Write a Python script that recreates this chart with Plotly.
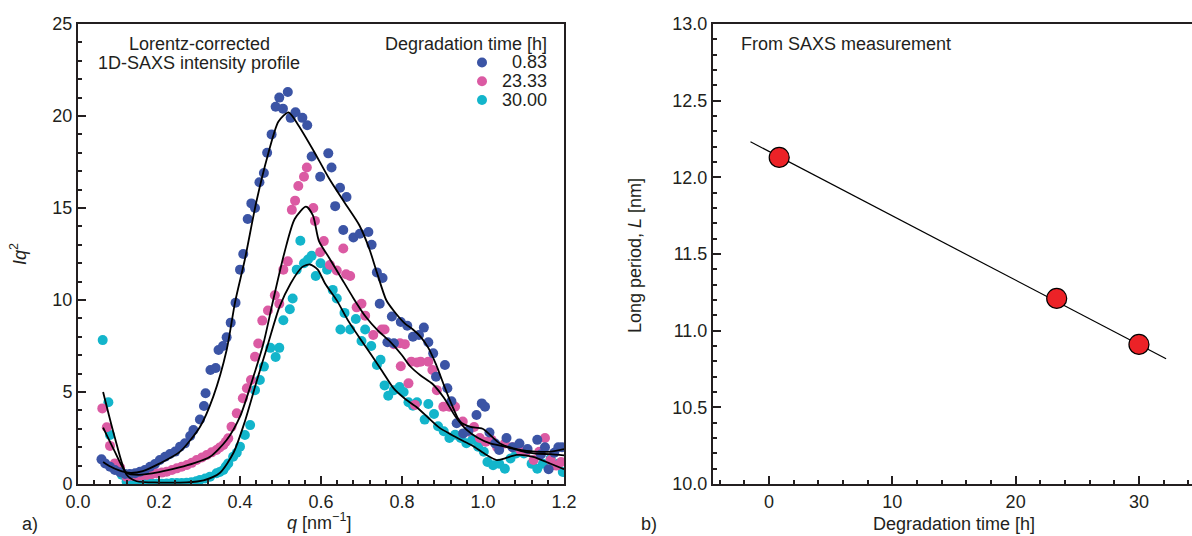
import plotly.graph_objects as go

# ---------------- data: panel a) Lorentz-corrected SAXS profiles ----------------
series_names = ["0.83", "23.33", "30.00"]

q_083 = [0.058, 0.067, 0.079, 0.091, 0.104, 0.116, 0.128, 0.141, 0.153, 0.165, 0.178, 0.190,
         0.202, 0.215, 0.227, 0.240, 0.252, 0.264, 0.277, 0.285, 0.301, 0.311, 0.315, 0.327,
         0.340, 0.347, 0.358, 0.367, 0.377, 0.389, 0.400, 0.408, 0.419, 0.428, 0.437, 0.448,
         0.459, 0.467, 0.478, 0.488, 0.497, 0.506, 0.518, 0.525, 0.537, 0.554, 0.566, 0.577,
         0.598, 0.618, 0.626, 0.635, 0.647, 0.655, 0.663, 0.680, 0.696, 0.717, 0.725, 0.738,
         0.745, 0.752, 0.764, 0.775, 0.780, 0.797, 0.813, 0.827, 0.842, 0.854, 0.865, 0.877,
         0.884, 0.906, 0.912, 0.922, 0.935, 0.951, 0.964, 0.984, 0.997, 1.005, 1.016, 1.030,
         1.040, 1.058, 1.073, 1.090, 1.110, 1.134, 1.143, 1.153, 1.162, 1.176, 1.186, 1.195]
iq2_083 = [1.34, 1.12, 0.94, 0.76, 0.64, 0.54, 0.54, 0.58, 0.67, 0.76, 0.94, 1.09,
           1.30, 1.48, 1.63, 1.76, 2.03, 2.21, 2.61, 2.93, 3.51, 4.24, 4.93, 6.20,
           6.30, 7.28, 7.50, 7.97, 8.77, 9.85, 11.65, 12.5, 14.4, 15.25, 15.0, 16.4,
           16.9, 18.0, 19.0, 20.5, 21.0, 20.4, 21.3, 19.9, 20.2, 19.9, 19.5, 17.8,
           16.7, 17.97, 17.2, 15.1, 16.1, 13.8, 15.6, 13.4, 13.6, 13.7, 13.0, 11.5,
           9.8, 11.2, 7.7, 9.1, 7.65, 8.8, 8.6, 8.0, 8.1, 8.5, 7.7, 7.1,
           5.83, 6.47, 5.2, 4.5, 3.3, 2.75, 2.9, 3.75, 4.38, 4.2, 2.8, 2.2,
           1.85, 2.5, 2.0, 2.2, 1.9, 2.4, 1.6, 2.0, 0.8, 1.7, 2.0, 2.0]

q_2333 = [0.060, 0.071, 0.079, 0.091, 0.104, 0.120, 0.133, 0.145, 0.157, 0.170, 0.182, 0.194,
          0.207, 0.219, 0.232, 0.244, 0.256, 0.269, 0.281, 0.293, 0.306, 0.318, 0.330, 0.342,
          0.350, 0.359, 0.365, 0.371, 0.379, 0.392, 0.407, 0.417, 0.427, 0.437, 0.445, 0.455,
          0.469, 0.486, 0.497, 0.507, 0.518, 0.528, 0.536, 0.544, 0.558, 0.565, 0.581, 0.585,
          0.598, 0.607, 0.622, 0.639, 0.655, 0.662, 0.672, 0.688, 0.700, 0.709, 0.729, 0.750,
          0.757, 0.780, 0.795, 0.797, 0.807, 0.816, 0.823, 0.832, 0.837, 0.846, 0.865, 0.875,
          0.886, 0.902, 0.917, 0.931, 0.950, 0.964, 0.978, 0.992, 1.007, 1.021, 1.035, 1.054,
          1.073, 1.092, 1.106, 1.125, 1.139, 1.153, 1.167, 1.181, 1.193]
iq2_2333 = [4.11, 3.08, 2.07, 1.12, 0.90, 0.40, 0.45, 0.43, 0.46, 0.49, 0.53, 0.58,
            0.62, 0.67, 0.76, 0.85, 0.94, 1.03, 1.15, 1.30, 1.44, 1.58, 1.72, 1.85,
            1.98, 2.12, 2.30, 2.48, 3.11, 3.84, 4.66, 5.20, 5.65, 6.92, 7.64, 8.88,
            9.43, 10.26, 9.8, 11.65, 12.1, 14.9, 15.4, 16.2, 16.7, 17.2, 15.0, 14.3,
            12.6, 13.2, 11.9, 11.6, 12.8, 11.4, 11.3, 9.6, 9.8, 9.15, 8.1, 8.4,
            8.4, 7.6, 7.65, 6.4, 7.6, 5.47, 6.65, 4.3, 6.6, 6.65, 6.65, 6.2,
            5.1, 4.2, 4.2, 4.2, 3.4, 2.85, 3.1, 2.5, 2.3, 2.4, 2.0, 2.2,
            2.0, 1.85, 1.75, 1.3, 1.75, 2.5, 1.3, 1.0, 1.2]

q_3000 = [0.061, 0.075, 0.079, 0.095, 0.108, 0.120, 0.133, 0.145, 0.157, 0.170, 0.182, 0.194,
          0.207, 0.219, 0.232, 0.244, 0.256, 0.268, 0.280, 0.292, 0.301, 0.314, 0.326, 0.342,
          0.350, 0.359, 0.365, 0.371, 0.383, 0.392, 0.400, 0.412, 0.425, 0.437, 0.449, 0.459,
          0.475, 0.488, 0.497, 0.507, 0.523, 0.530, 0.540, 0.549, 0.558, 0.568, 0.577, 0.587,
          0.599, 0.615, 0.629, 0.639, 0.648, 0.658, 0.672, 0.686, 0.700, 0.709, 0.724, 0.738,
          0.747, 0.757, 0.766, 0.780, 0.794, 0.804, 0.816, 0.827, 0.837, 0.856, 0.865, 0.879,
          0.889, 0.903, 0.917, 0.931, 0.945, 0.959, 0.974, 0.988, 1.002, 1.011, 1.025, 1.040,
          1.054, 1.068, 1.082, 1.101, 1.120, 1.134, 1.148, 1.167, 1.186, 1.197]
iq2_3000 = [7.82, 4.44, 2.66, 1.00, 0.50, 0.13, 0.08, 0.05, 0.04, 0.03, 0.03, 0.02,
            0.02, 0.03, 0.05, 0.05, 0.06, 0.07, 0.10, 0.15, 0.22, 0.30, 0.40, 0.58,
            0.65, 0.76, 0.95, 1.12, 1.48, 1.70, 2.03, 2.66, 3.20, 5.10, 5.65, 6.38,
            7.4, 6.9, 7.4, 8.9, 9.5, 10.08, 11.65, 13.22, 12.0, 12.2, 12.4, 11.3,
            12.0, 11.65, 10.55, 10.08, 8.4, 9.3, 8.4, 8.97, 7.77, 8.4, 7.5, 6.47,
            6.75, 5.36, 4.8, 5.1, 5.27, 5.0, 4.44, 4.25, 4.44, 3.5, 4.35, 3.8,
            3.14, 2.87, 2.5, 2.68, 2.5, 2.22, 2.4, 2.03, 1.75, 1.2, 1.02, 1.1,
            0.83, 1.39, 1.66, 1.66, 1.1, 0.83, 1.1, 1.39, 1.1, 0.65]

# smoothed (fitted) profiles
fit_q_083 = [0.062, 0.08, 0.10, 0.13, 0.16, 0.202, 0.252, 0.301, 0.334, 0.367, 0.388, 0.412,
             0.44, 0.469, 0.495, 0.52, 0.544, 0.582, 0.62, 0.658, 0.695, 0.719, 0.738, 0.761,
             0.78, 0.808, 0.827, 0.846, 0.865, 0.884, 0.903, 0.922, 0.943, 0.969, 0.999, 1.042,
             1.092, 1.129, 1.167, 1.2]
fit_y_083 = [1.2, 0.95, 0.75, 0.6, 0.7, 1.12, 1.76, 3.1, 4.75, 7.28, 9.9, 12.2,
             15.3, 17.9, 19.7, 20.2, 19.5, 18.1, 16.6, 15.3, 14.05, 12.8, 11.5, 10.0,
             9.4, 8.7, 8.4, 8.0, 7.4, 6.5, 5.4, 4.35, 3.4, 3.1, 3.0, 2.2,
             1.85, 1.76, 1.76, 1.9]
fit_q_2333 = [0.062, 0.09, 0.12, 0.15, 0.2, 0.25, 0.285, 0.326, 0.367, 0.4, 0.433, 0.458,
              0.482, 0.51, 0.535, 0.563, 0.58, 0.595, 0.62, 0.65, 0.68, 0.71, 0.74, 0.77,
              0.8, 0.82, 0.846, 0.875, 0.903, 0.931, 0.959, 0.988, 1.016, 1.054, 1.092, 1.129,
              1.167, 1.2]
fit_y_2333 = [3.06, 1.8, 0.6, 0.5, 0.65, 0.9, 1.12, 1.48, 2.39, 3.66, 5.83, 7.65,
              10.0, 12.6, 14.4, 15.07, 14.6, 13.2, 12.3, 11.2, 10.1, 9.1, 8.35, 7.75,
              7.0, 6.4, 5.9, 5.45, 4.7, 3.7, 2.96, 2.5, 2.22, 2.03, 1.8, 1.65,
              1.62, 1.55]
fit_q_3000 = [0.062, 0.09, 0.12, 0.145, 0.2, 0.268, 0.31, 0.35, 0.384, 0.412, 0.44, 0.469,
              0.497, 0.525, 0.554, 0.573, 0.592, 0.61, 0.639, 0.667, 0.695, 0.724, 0.752, 0.78,
              0.808, 0.837, 0.865, 0.893, 0.922, 0.95, 0.978, 1.007, 1.034, 1.054, 1.083, 1.124,
              1.167, 1.2]
fit_y_3000 = [5.0, 2.6, 0.5, 0.15, 0.08, 0.09, 0.2, 0.6, 1.7, 3.4, 5.5, 7.6,
              9.6, 10.9, 11.8, 11.93, 11.65, 10.9, 9.98, 8.88, 7.95, 7.03, 6.1, 5.18,
              4.62, 4.16, 3.6, 3.05, 2.68, 2.35, 2.03, 1.6, 1.3, 1.39, 1.58, 1.48,
              1.1, 0.8]

# ---------------- data: panel b) long period vs degradation time ----------------
deg_time = [0.83, 23.33, 30.00]
long_period = [12.13, 11.21, 10.91]
fit_time = [-1.5, 32.2]
fit_long_period = [12.232, 10.817]

# ---------------- styling ----------------
FONT = "Liberation Sans, Arial, Helvetica, sans-serif"
INK = "#231F20"
colors = ["#3B54A5", "#DB5AA3", "#13B5CB"]
W, H = 1192, 536

fig = go.Figure()

scatter_sets = [(q_3000, iq2_3000, colors[2]), (q_2333, iq2_2333, colors[1]), (q_083, iq2_083, colors[0])]
for qx, yy, c in scatter_sets:
    fig.add_trace(go.Scatter(x=qx, y=yy, mode="markers", xaxis="x", yaxis="y",
                             marker=dict(size=10, color=c, line=dict(width=0)),
                             showlegend=False, cliponaxis=True))

for fq, fy in [(fit_q_083, fit_y_083), (fit_q_2333, fit_y_2333), (fit_q_3000, fit_y_3000)]:
    fig.add_trace(go.Scatter(x=fq, y=fy, mode="lines", xaxis="x", yaxis="y",
                             line=dict(color="black", width=1.8, shape="spline", smoothing=0.7),
                             showlegend=False))

fig.add_trace(go.Scatter(x=fit_time, y=fit_long_period, mode="lines", xaxis="x2", yaxis="y2",
                         line=dict(color="black", width=1.2), showlegend=False))
fig.add_trace(go.Scatter(x=deg_time, y=long_period, mode="markers", xaxis="x2", yaxis="y2",
                         marker=dict(size=20, color="#EC2227", line=dict(color="black", width=1.2)),
                         showlegend=False))

axis_common = dict(showline=True, linecolor=INK, linewidth=2, mirror=True, ticks="inside",
                   tickcolor=INK, tickwidth=1.5, ticklen=8, showgrid=False, zeroline=False,
                   automargin=False,
                   tickfont=dict(family=FONT, size=18, color=INK))

L0, L1 = 78 / W, 564 / W
R0, R1 = 713 / W, 1.0
B, T = 1 - 484 / H, 1 - 24 / H

fig.update_layout(
    width=W, height=H, margin=dict(l=0, r=0, t=0, b=0, autoexpand=False),
    paper_bgcolor="white", plot_bgcolor="white", showlegend=False,
    font=dict(family=FONT, size=18, color=INK),
    xaxis=dict(domain=[L0, L1], range=[0, 1.2], dtick=0.2, tickformat=".1f", anchor="y",
               minor=dict(dtick=0.04, ticks="inside", ticklen=4, tickcolor=INK, tickwidth=1.5),
               **axis_common),
    yaxis=dict(domain=[B, T], range=[0, 25], dtick=5, anchor="x",
               minor=dict(dtick=1, ticks="inside", ticklen=4, tickcolor=INK, tickwidth=1.5),
               **axis_common),
    xaxis2=dict(domain=[R0, R1], range=[-4.54, 34.3], tick0=0, dtick=10, anchor="y2",
                minor=dict(dtick=2, ticks="inside", ticklen=4, tickcolor=INK, tickwidth=1.5),
                **{**axis_common, "mirror": True}),
    yaxis2=dict(domain=[B, T], range=[10, 13], dtick=0.5, tickformat=".1f", anchor="x2",
                minor=dict(dtick=0.1, ticks="inside", ticklen=4, tickcolor=INK, tickwidth=1.5),
                **{**axis_common, "mirror": False}),
)

def px(x, y, text, **kw):
    fig.add_annotation(x=x / W, y=1 - y / H, xref="paper", yref="paper", text=text,
                       showarrow=False, font=dict(family=FONT, size=18, color=INK), **kw)

# panel labels and axis titles
px(30, 524, "a)", xanchor="center", yanchor="middle")
px(649, 524, "b)", xanchor="center", yanchor="middle")
px(319, 535, "<i>q</i> [nm<sup>\u22121</sup>]", xanchor="center", yanchor="bottom")
px(18, 254, "<i>Iq</i><sup>2</sup>", textangle=-90, xanchor="center", yanchor="middle")
px(954, 524, "Degradation time [h]", xanchor="center", yanchor="middle")
px(635, 256, "Long period, <i>L</i> [nm]", textangle=-90, xanchor="center", yanchor="middle")
px(739, 44, "From SAXS measurement", xanchor="left", yanchor="middle")
px(199, 44, "Lorentz-corrected", xanchor="center", yanchor="middle")
px(199, 63, "1D-SAXS intensity profile", xanchor="center", yanchor="middle")

# legend (header, keys, labels)
px(549, 44, "Degradation time [h]", xanchor="right", yanchor="middle")
legend_rows = [62.5, 81.2, 100.0]
for name, c, yrow in zip(series_names, colors, legend_rows):
    px(549, yrow, name, xanchor="right", yanchor="middle")
    fig.add_shape(type="circle", xref="paper", yref="paper",
                  xsizemode="pixel", ysizemode="pixel",
                  xanchor=482 / W, yanchor=1 - yrow / H,
                  x0=-5, x1=5, y0=-5, y1=5,
                  fillcolor=c, line=dict(width=0))

fig.write_html("out.html")
